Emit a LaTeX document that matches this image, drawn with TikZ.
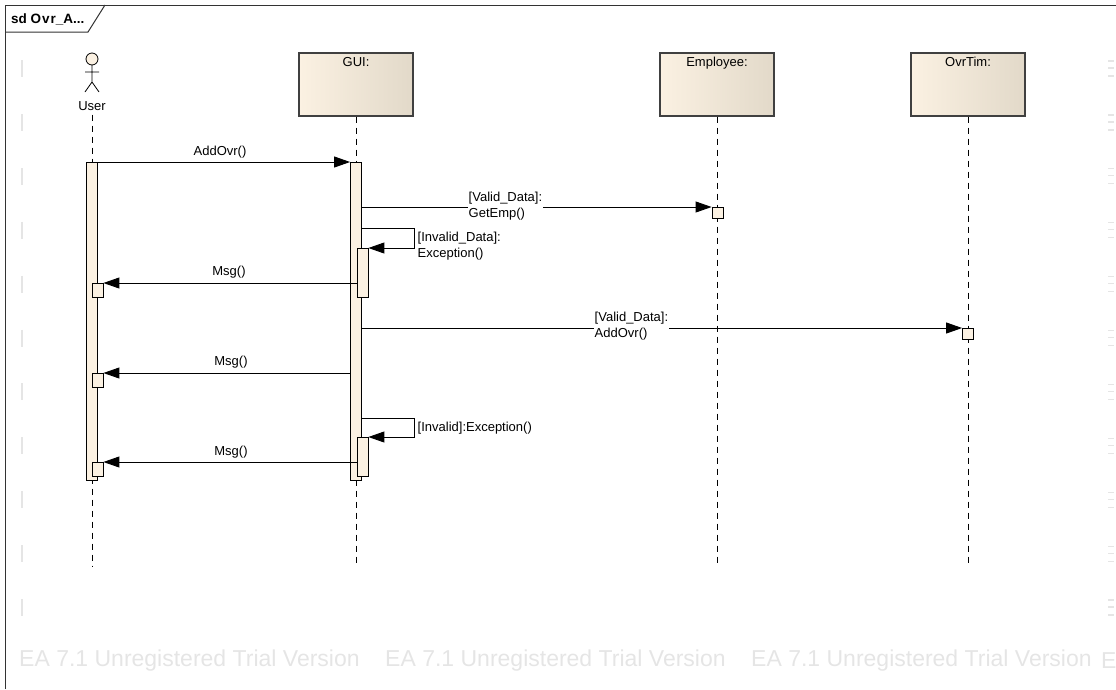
\documentclass[tikz,border=0pt]{standalone}
\usepackage{fontspec}
\setmainfont{Liberation Sans}
\usetikzlibrary{arrows.meta,calc}
\definecolor{cream}{RGB}{251,241,226}
\definecolor{creamdk}{RGB}{226,217,201}
\definecolor{wmgray}{RGB}{229,229,229}
\tikzset{
  every node/.style={font=\fontsize{13}{16}\selectfont},
  headbox/.style={draw=black!75, line width=1.3pt, left color=cream, right color=creamdk, minimum width=114pt, minimum height=63pt, inner sep=0pt},
  headtxt/.style={anchor=north, inner sep=0pt},
  actbar/.style={draw=black, line width=0.8pt, fill=cream, minimum width=11pt, inner sep=0pt, anchor=north},
  lifeln/.style={draw=black, line width=0.8pt, dash pattern=on 6pt off 5pt},
  msg/.style={draw=black, line width=0.9pt, -{Triangle[length=16pt,width=11pt]}},
  lbl/.style={inner sep=0.5pt, align=left},
  wlbl/.style={inner sep=0.5pt, align=left, fill=white},
  wmtxt/.style={text=wmgray, inner sep=0pt, anchor=west, font=\fontsize{23}{25}\selectfont},
  wmark/.style={draw=wmgray, line width=1.2pt},
  framel/.style={draw=black!80, line width=1pt}
}
\begin{document}
\begin{tikzpicture}[x=1pt,y=-1pt]
\useasboundingbox (0,0) rectangle (1116,689);
% watermark
\node[wmtxt] (wm1) at (19,661) {EA 7.1 Unregistered Trial Version};
\node[wmtxt] (wm2) at (385,661) {EA 7.1 Unregistered Trial Version};
\node[wmtxt] (wm3) at (751,661) {EA 7.1 Unregistered Trial Version};
\node[wmtxt] (wm4) at (1101,661) {E};
\foreach \k in {0,...,10} {
  \draw[wmark] (22,{60+53.9*\k}) -- ++(0,17);
  \draw[wmark] (1108,{61+53.9*\k}) -- ++(6,0);
  \draw[wmark] (1108,{68+53.9*\k}) -- ++(6,0);
  \draw[wmark] (1108,{76+53.9*\k}) -- ++(6,0);
}
% frame
\draw[framel] (5,689) -- (5,5) -- (1116,5);
\draw[framel] (5,32) -- (88,32) -- (105,5);
\node[anchor=west, inner sep=0pt, font=\bfseries\fontsize{13.5}{15}\selectfont] (title) at (11,19) {sd O\kern1pt v\kern1pt r\_A...};
% actor
\node[minimum width=30pt, minimum height=40pt, inner sep=0pt] (user) at (92,72) {};
\draw[line width=0.8pt, fill=cream] (92,59) circle (6);
\draw[line width=0.8pt] (92,65) -- (92,82) (85,72) -- (99,72) (85,92) -- (92,82) -- (99,92);
\node[inner sep=0pt] (usr) at (92,106) {User};
% heads
\node[headbox] (gui) at (356,84.5) {};
\node[headtxt] (guit) at ([yshift=-5pt]gui.north) {GUI:};
\node[headbox] (emp) at (717,84.5) {};
\node[headtxt] (empt) at ([yshift=-5pt]emp.north) {Employee:};
\node[headbox] (ovr) at (968,84.5) {};
\node[headtxt] (ovrt) at ([yshift=-5pt]ovr.north) {OvrTim:};
% lifelines
\coordinate (uend) at (92,566);
\coordinate (gend) at (356,566);
\coordinate (eend) at (717,566);
\coordinate (oend) at (968,566);
\draw[lifeln] ([yshift=-4pt]usr.south) -- (uend);
\draw[lifeln] (gui.south) -- (gend);
\draw[lifeln] (emp.south) -- (eend);
\draw[lifeln] (ovr.south) -- (oend);
% activation bars
\node[actbar, minimum height=318pt] (ua) at (92,162) {};
\node[actbar, minimum height=318pt] (gb) at (356,162) {};
\node[actbar, minimum height=49pt] (n1) at (362.5,248) {};
\node[actbar, minimum height=39pt] (n2) at (362.5,437) {};
\node[actbar, minimum height=14pt] (u1) at (97.5,283) {};
\node[actbar, minimum height=14pt] (u2) at (97.5,373) {};
\node[actbar, minimum height=14pt] (u3) at (97.5,462) {};
\node[actbar, minimum height=11pt] (e1) at (717.5,207) {};
\node[actbar, minimum height=11pt] (o1) at (968,328) {};
% messages
\draw[msg] (ua.north east) -- (gb.north west);
\node[lbl] (l1) at (220,152) {AddOvr()};
\draw[msg] (gb.east |- e1.north) -- (e1.north west);
\node[wlbl, anchor=west] (l2) at (468,206) {[Valid\_Data]:\\GetEmp()};
\draw[msg] ($(gb.east |- n1.north)+(0,-20)$) -- ++(53,0) |- (n1.north east);
\node[lbl, anchor=west] (l3) at (417,246) {[Invalid\_Data]:\\Exception()};
\draw[msg] (n1.west |- u1.north) -- (u1.north east);
\node[lbl] (l4) at (229,272) {Msg()};
\draw[msg] (gb.east |- o1.north) -- (o1.north west);
\node[wlbl, anchor=west] (l5) at (594,326) {[Valid\_Data]:\\AddOvr()};
\draw[msg] (gb.west |- u2.north) -- (u2.north east);
\node[lbl] (l6) at (231,362) {Msg()};
\draw[msg] ($(gb.east |- n2.north)+(0,-19)$) -- ++(53,0) |- (n2.north east);
\node[lbl, anchor=west] (l7) at (417,428) {[Invalid]:Exception()};
\draw[msg] (n2.west |- u3.north) -- (u3.north east);
\node[lbl] (l8) at (231,452) {Msg()};
\end{tikzpicture}
\end{document}
